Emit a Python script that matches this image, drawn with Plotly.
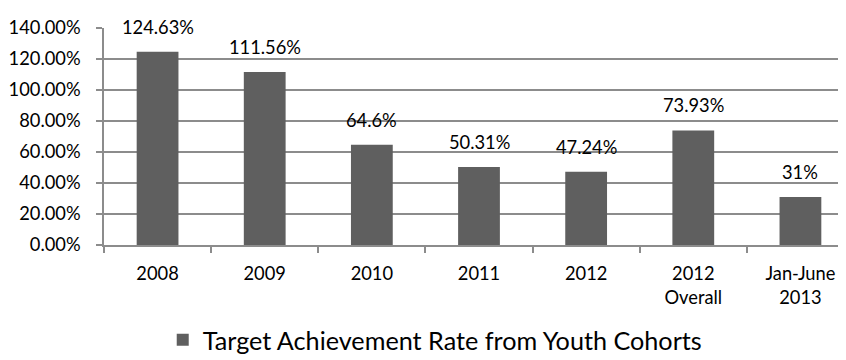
import plotly.graph_objects as go

categories = ["2008", "2009", "2010", "2011", "2012", "2012<br>Overall", "Jan-June<br>2013"]
values = [124.63, 111.56, 64.6, 50.31, 47.24, 73.93, 31]
labels = ["124.63%", "111.56%", "64.6%", "50.31%", "47.24%", "73.93%", "31%"]
series_name = "Target Achievement Rate from Youth Cohorts"
y_ticks = [0, 20, 40, 60, 80, 100, 120, 140]
y_tick_text = ["%.2f%%" % v for v in y_ticks]

FONT = "Lato"
FS = 18.3
BAR = "#5f5f5f"
GRID = "#8c8c8c"

fig = go.Figure()
fig.add_trace(go.Bar(
    x=categories, y=values, name=series_name,
    marker=dict(color=BAR, line=dict(width=0)),
    width=0.39, showlegend=True,
))
for i, (v, t) in enumerate(zip(values, labels)):
    fig.add_annotation(x=i, y=v, text=t, showarrow=False, yshift=25,
                       font=dict(family=FONT, size=FS, color="#000"))

fig.update_layout(
    width=846, height=360,
    margin=dict(l=96, r=0, t=20, b=123, autoexpand=False),
    paper_bgcolor="white", plot_bgcolor="white",
    font=dict(family=FONT, size=FS, color="#000"),
    showlegend=True,
    legend=dict(orientation="h", xref="container", yref="container",
                x=0.505, xanchor="center", y=0.078, yanchor="middle",
                font=dict(family=FONT, size=25.2, color="#000"),
                itemwidth=30),
)
fig.update_xaxes(
    type="category", range=[-0.5, 6.5],
    showline=True, linecolor=GRID, linewidth=1.5,
    ticks="outside", ticklen=6, tickcolor=GRID, tickwidth=1.5,
    tickson="boundaries", showgrid=False, ticklabelstandoff=11,
    tickfont=dict(family=FONT, size=FS, color="#000"),
)
fig.update_yaxes(
    range=[0, 140], tickvals=y_ticks, ticktext=y_tick_text,
    showline=True, linecolor=GRID, linewidth=1.5,
    ticks="outside", ticklen=6, tickcolor=GRID, tickwidth=1.5,
    showgrid=True, gridcolor=GRID, gridwidth=1.5,
    zeroline=False, ticklabelstandoff=12,
    tickfont=dict(family=FONT, size=FS, color="#000"),
)
fig.write_html("out.html")
